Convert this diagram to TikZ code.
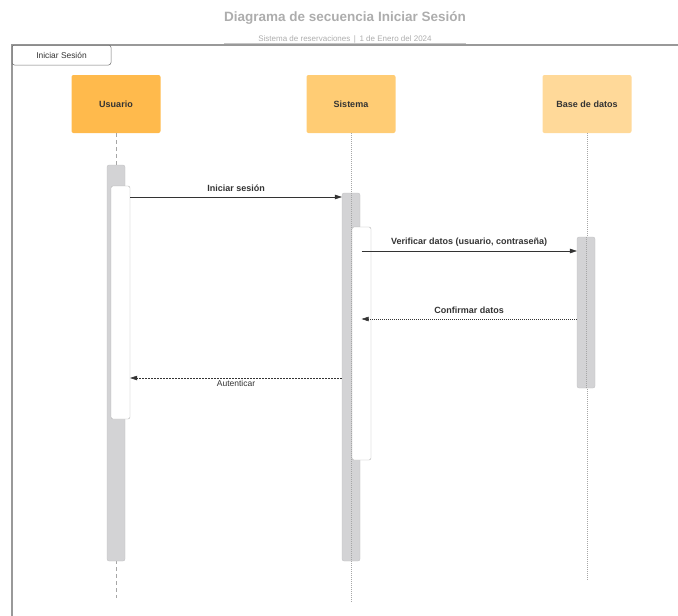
\documentclass[tikz,border=0pt]{standalone}
\usepackage{fontspec}
\setmainfont{Liberation Sans}
\usetikzlibrary{arrows.meta,positioning}

\definecolor{actA}{HTML}{FFBA4C}
\definecolor{actB}{HTML}{FFCC74}
\definecolor{actC}{HTML}{FFD999}
\definecolor{barfill}{HTML}{D3D3D5}
\definecolor{txt}{HTML}{333333}
\definecolor{titlegray}{HTML}{ADADAD}

\begin{document}
\begin{tikzpicture}[x=1pt, y=-1pt,
  actor/.style={rectangle, rounded corners=2pt, minimum width=89pt, minimum height=58pt,
    font=\fontsize{9}{11}\selectfont\bfseries, text=txt},
  bar/.style={rectangle, rounded corners=2pt, fill=barfill, draw=barfill!90!black, line width=0.3pt,
    minimum width=18pt, inner sep=0pt},
  subbar/.style={rectangle, rounded corners=2pt, fill=white, draw=gray!60, line width=0.4pt,
    minimum width=19pt, inner sep=0pt},
  msg/.style={-{Triangle[length=7pt,width=4.5pt]}, txt, line width=0.5pt},
  lbl/.style={font=\fontsize{9}{11}\selectfont\bfseries, text=txt},
  life/.style={gray!70, line width=0.5pt}]
\useasboundingbox (0,0) rectangle (678,616);

% title
\node[font=\fontsize{13.5}{16}\selectfont\bfseries, text=titlegray] (title) at (345,18)
  {Diagrama de secuencia Iniciar Sesi\'on};
\node[font=\fontsize{8}{9}\selectfont, text=titlegray] (sub) at (345,39)
  {Sistema de reservaciones \,|\, 1 de Enero del 2024};
\draw[titlegray!70, line width=0.6pt] (224,43.5) -- (466,43.5);

% frame
\draw[gray!80, line width=1.3pt] (678,45) -- (12,45) -- (12,616);
\node[draw=gray!90!black, line width=0.5pt, rounded corners=2.5pt, minimum width=99pt,
  minimum height=20pt, inner sep=0pt, font=\fontsize{8.4}{10}\selectfont, text=txt]
  (frag) at (61.5,55) {Iniciar Sesi\'on};

% actors
\node[actor, fill=actA] (usr) at (116,104) {Usuario};
\node[actor, fill=actB] (sys) at (351,104) {Sistema};
\node[actor, fill=actC] (db)  at (587,104) {Base de datos};

% lifelines
\coordinate (usrend) at (116,598);
\coordinate (sysend) at (351,603);
\coordinate (dbend)  at (587,580);
\draw[life, dash pattern=on 4pt off 3pt] (usr.south) -- (usrend);
\draw[life, dash pattern=on 1pt off 1pt] (sys.south) -- (sysend);
\draw[life, dash pattern=on 1pt off 1pt] (db.south) -- (dbend);

% activations
\node[bar, minimum height=396pt] (usrbar) at (116,363) {};
\node[bar, minimum height=368pt] (sysbar) at (351,377) {};
\node[bar, minimum height=151pt] (dbbar)  at (586,312.5) {};
\draw[life, dash pattern=on 1pt off 1pt] (sysbar.north) -- (sysbar.south);
\draw[life, dash pattern=on 1pt off 1pt] (dbbar.north) -- (dbbar.south);
\node[subbar, minimum height=233pt] (usrsub) at (120.5,302.5) {};
\node[subbar, minimum height=233pt] (syssub) at (361.5,343.5) {};

% messages
\coordinate (m1a) at (usrsub.east |- 0,197);
\coordinate (m1b) at (sysbar.west |- 0,197);
\coordinate (m2a) at (syssub.center |- 0,251);
\coordinate (m2b) at (dbbar.west |- 0,251);
\coordinate (m3a) at (dbbar.west |- 0,319);
\coordinate (m3b) at (syssub.center |- 0,319);
\coordinate (m4a) at (sysbar.west |- 0,378);
\coordinate (m4b) at (usrsub.east |- 0,378);

\draw[msg] (m1a) -- node[lbl, above=1.5pt] {Iniciar sesi\'on} (m1b);
\draw[msg] (m2a) -- node[lbl, above=1.5pt] {Verificar datos (usuario, contrase\~na)} (m2b);
\draw[msg, dash pattern=on 1pt off 1pt] (m3a) -- node[lbl, above=1.5pt] {Confirmar datos} (m3b);
\draw[msg, dash pattern=on 2pt off 1pt] (m4a) -- node[below=-1pt, font=\fontsize{8.5}{10}\selectfont, text=txt] {Autenticar} (m4b);
\end{tikzpicture}
\end{document}
